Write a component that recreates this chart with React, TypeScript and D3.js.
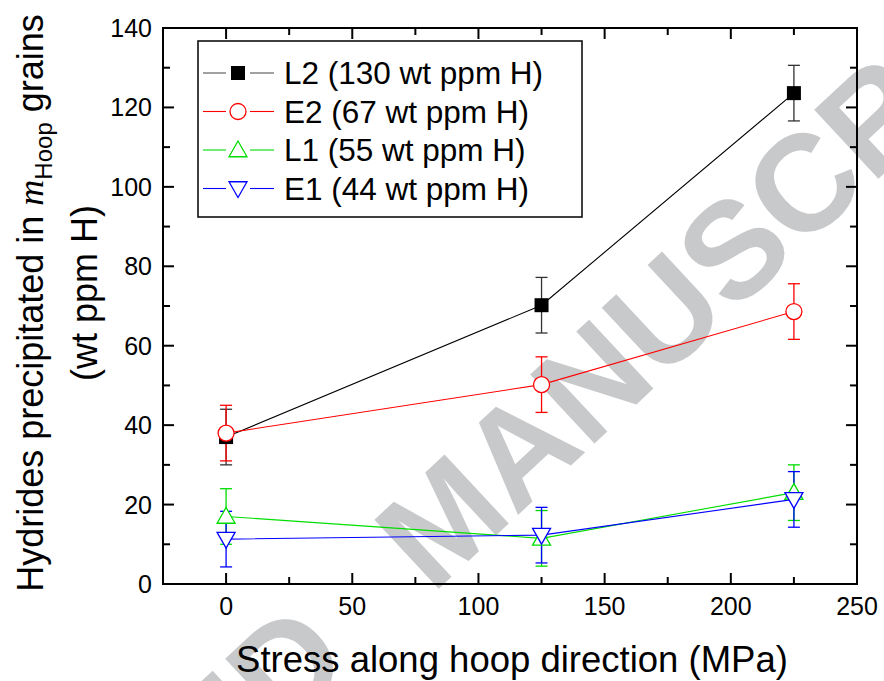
import React from "react";
import * as d3 from "d3";

const stress = [0, 125, 225];
const seriesNames = ["L2 (130 wt ppm H)", "E2 (67 wt ppm H)", "L1 (55 wt ppm H)", "E1 (44 wt ppm H)"];
const seriesColors = ["#000000", "#ff0000", "#00dd00", "#0000ff"];
const seriesMarkers = ["square", "circle", "triangleUp", "triangleDown"];
const valuesL2 = [37, 70.2, 123.6];
const valuesE2 = [38, 50.2, 68.6];
const valuesL1 = [17, 11.5, 23];
const valuesE1 = [11.3, 12.3, 21.3];
const errL2 = [7, 7, 7];
const errE2 = [7, 7, 7];
const errL1 = [7, 7, 7];
const errE1 = [7, 7, 7];
const xTicks = [0, 50, 100, 150, 200, 250];
const yTicks = [0, 20, 40, 60, 80, 100, 120, 140];
const watermarkWords = ["ACCEPTED", "MANUSCRIPT"];

const W = 884, H = 681;
const left = 163, right = 857, top = 28, bottom = 584;

export default function App() {
  const x = d3.scaleLinear().domain([-25, 250]).range([left, right]);
  const y = d3.scaleLinear().domain([0, 140]).range([bottom, top]);
  const allVals = [valuesL2, valuesE2, valuesL1, valuesE1];
  const allErr = [errL2, errE2, errL1, errE1];
  const errColors = ["#333333", "#ff0000", "#00dd00", "#0000ff"];
  const line = d3.line<[number, number]>().x(d => x(d[0])).y(d => y(d[1]));

  const marker = (kind: string, cx: number, cy: number, color: string, key: string) => {
    if (kind === "square") return <rect key={key} x={cx - 7} y={cy - 7} width={14} height={14} fill={color} />;
    if (kind === "circle") return <circle key={key} cx={cx} cy={cy} r={8} fill="#fff" stroke={color} strokeWidth={1.3} />;
    const s = 9;
    if (kind === "triangleUp")
      return <path key={key} d={`M${cx},${cy - s} L${cx + s},${cy + s * 0.75} L${cx - s},${cy + s * 0.75}Z`} fill="#fff" stroke={color} strokeWidth={1.3} />;
    return <path key={key} d={`M${cx},${cy + s} L${cx + s},${cy - s * 0.75} L${cx - s},${cy - s * 0.75}Z`} fill="#fff" stroke={color} strokeWidth={1.3} />;
  };

  const xMinor = d3.range(-25, 251, 25);
  const yMinor = d3.range(0, 141, 10);
  const font = "'Liberation Sans', Arial, sans-serif";
  const wmFont = 137;
  const mHalf = 0.4165 * wmFont;

  return (
    <svg width={W} height={H} style={{ position: "absolute", left: 0, top: 0 }} fontFamily={font}>
      <rect width={W} height={H} fill="#fff" />
      {/* watermark */}
      <g transform="translate(440,520) rotate(-43)" fontSize={wmFont} fontWeight="bold" fill="#c8c9cb">
        <text x={-mHalf - 105} y={0} dy="0.36em" textAnchor="end">{watermarkWords[0]}</text>
        <text x={-mHalf} y={0} dy="0.36em" textAnchor="start">{watermarkWords[1]}</text>
      </g>

      {/* frame */}
      <rect x={left} y={top} width={right - left} height={bottom - top} fill="none" stroke="#000" strokeWidth={2} />
      {xMinor.map(v => {
        const major = v % 50 === 0;
        const len = major ? 11 : 7;
        return (
          <g key={"xt" + v}>
            <line x1={x(v)} x2={x(v)} y1={bottom} y2={bottom - len} stroke="#000" strokeWidth={2} />
            <line x1={x(v)} x2={x(v)} y1={top} y2={top + len} stroke="#000" strokeWidth={2} />
          </g>
        );
      })}
      {yMinor.map(v => {
        const major = v % 20 === 0;
        const len = major ? 11 : 7;
        return (
          <g key={"yt" + v}>
            <line x1={left} x2={left + len} y1={y(v)} y2={y(v)} stroke="#000" strokeWidth={2} />
            <line x1={right} x2={right - len} y1={y(v)} y2={y(v)} stroke="#000" strokeWidth={2} />
          </g>
        );
      })}
      {xTicks.map(v => (
        <text key={"xl" + v} x={x(v)} y={615} textAnchor="middle" fontSize={25}>{v}</text>
      ))}
      {yTicks.map(v => (
        <text key={"yl" + v} x={152} y={y(v)} dy="0.36em" textAnchor="end" fontSize={25}>{v}</text>
      ))}

      {/* axis titles */}
      <text x={512} y={672} textAnchor="middle" fontSize={36.5}>Stress along hoop direction (MPa)</text>
      <g transform="translate(43,303) rotate(-90)">
        <text x={0} y={0} textAnchor="middle" fontSize={36}>
          Hydrides precipitated in <tspan fontFamily="'Liberation Serif', 'Times New Roman', serif" fontStyle="italic">m</tspan>
          <tspan fontSize={24} dy={9}>Hoop</tspan>
          <tspan dy={-9}> grains</tspan>
        </text>
      </g>
      <g transform="translate(97,293) rotate(-90)">
        <text x={0} y={0} textAnchor="middle" fontSize={36}>(wt ppm H)</text>
      </g>

      {/* data */}
      {allVals.map((vals, si) => (
        <path key={"l" + si} d={line(stress.map((s, i) => [s, vals[i]]) as [number, number][]) || ""}
          fill="none" stroke={seriesColors[si]} strokeWidth={1.1} />
      ))}
      {allVals.map((vals, si) => (
        <g key={"e" + si} stroke={errColors[si]} strokeWidth={1.3}>
          {stress.map((s, i) => {
            const cx = x(s), y1 = y(vals[i] + allErr[si][i]), y2 = y(vals[i] - allErr[si][i]);
            return (
              <g key={i}>
                <line x1={cx} x2={cx} y1={y1} y2={y2} />
                <line x1={cx - 6} x2={cx + 6} y1={y1} y2={y1} />
                <line x1={cx - 6} x2={cx + 6} y1={y2} y2={y2} />
              </g>
            );
          })}
        </g>
      ))}
      {allVals.map((vals, si) => (
        <g key={"m" + si}>
          {stress.map((s, i) => marker(seriesMarkers[si], x(s), y(vals[i]), seriesColors[si], si + "-" + i))}
        </g>
      ))}

      {/* legend */}
      <rect x={198} y={41} width={384} height={176} fill="#fff" stroke="#000" strokeWidth={1.5} />
      {seriesNames.map((name, i) => {
        const ry = 73 + i * 38.5;
        return (
          <g key={"lg" + i}>
            <line x1={203} x2={226} y1={ry} y2={ry} stroke={i === 0 ? "#555" : seriesColors[i]} strokeWidth={1.1} />
            <line x1={250} x2={274} y1={ry} y2={ry} stroke={i === 0 ? "#555" : seriesColors[i]} strokeWidth={1.1} />
            {marker(seriesMarkers[i], 238, ry, seriesColors[i], "lm" + i)}
            <text x={284} y={ry} dy="0.36em" fontSize={31.5}>{name}</text>
          </g>
        );
      })}
    </svg>
  );
}
